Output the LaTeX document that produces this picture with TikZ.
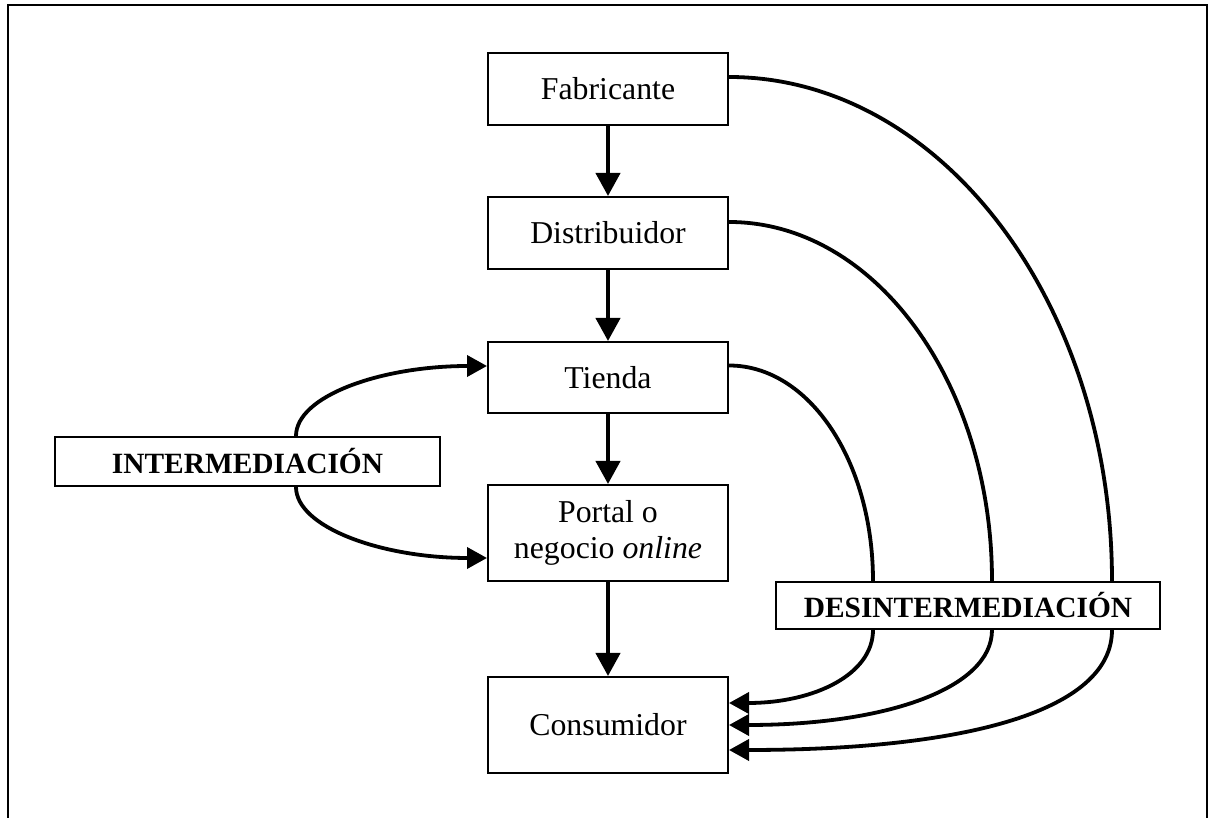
\documentclass[tikz,border=0pt]{standalone}
\usepackage{fontspec}
\setmainfont{Liberation Serif}
\usetikzlibrary{arrows.meta}
\begin{document}
\begin{tikzpicture}[x=0.5pt,y=0.5pt,
  box/.style={draw,line width=1pt,minimum width=120pt,inner sep=0pt,
    font=\fontsize{15.9}{18}\selectfont,align=center},
  lbl/.style={draw,line width=1pt,inner sep=0pt,
    font=\fontsize{14.7}{16}\selectfont\bfseries},
  flow/.style={line width=2.1pt,-{Triangle[length=11.5pt,width=12pt]}},
  link/.style={line width=1.9pt},
  linkarrow/.style={line width=1.9pt,-{Triangle[length=10pt,width=10.5pt]}},
]
\useasboundingbox (0,0) rectangle (1210,818);
\draw[line width=1.2pt] (8,0) -- (8,813) -- (1207,813) -- (1207,0);

\node[box,minimum height=36pt] (fab) at (608,729) {Fabricante};
\node[box,minimum height=36pt] (dis) at (608,585) {Distribuidor};
\node[box,minimum height=35.5pt] (tie) at (608,440.5) {Tienda};
\node[box,minimum height=48pt] (por) at (608,285) {Portal o\\negocio \textit{online}};
\node[box,minimum height=48pt] (con) at (608,93) {Consumidor};
\node[lbl,minimum width=192.5pt,minimum height=24.5pt] (inter) at (247.5,356.5) {INTERMEDIACIÓN};
\node[lbl,minimum width=192pt,minimum height=23.5pt] (des) at (968,212.5) {DESINTERMEDIACIÓN};

% main chain
\draw[flow] (fab) -- (dis);
\draw[flow] (dis) -- (tie);
\draw[flow] (tie) -- (por);
\draw[flow] (por) -- (con);

% intermediation
\draw[linkarrow] ([xshift=24.25pt]inter.north) to[out=90,in=180,out distance=20pt,in distance=53pt] ([yshift=5.75pt]tie.west);
\draw[linkarrow] ([xshift=24.25pt]inter.south) to[out=-90,in=180,out distance=20pt,in distance=53pt] ([yshift=-12.5pt]por.west);

% disintermediation, upper parts
\draw[link] ([yshift=6pt]fab.east) to[out=0,in=90,out distance=106pt,in distance=139pt] ([xshift=72pt]des.north);
\draw[link] ([yshift=5.5pt]dis.east) to[out=0,in=90,out distance=73pt,in distance=99pt] ([xshift=12pt]des.north);
\draw[link] ([yshift=6pt]tie.east) to[out=0,in=90,out distance=40pt,in distance=60pt] ([xshift=-47.5pt]des.north);

% disintermediation, lower parts
\draw[linkarrow] ([xshift=72pt]des.south) to[out=-90,in=0,out distance=40pt,in distance=120pt] ([yshift=-12.5pt]con.east);
\draw[linkarrow] ([xshift=12pt]des.south) to[out=-90,in=0,out distance=29pt,in distance=79pt] (con.east);
\draw[linkarrow] ([xshift=-47.5pt]des.south) to[out=-90,in=0,out distance=22pt,in distance=43pt] ([yshift=11pt]con.east);
\end{tikzpicture}
\end{document}
